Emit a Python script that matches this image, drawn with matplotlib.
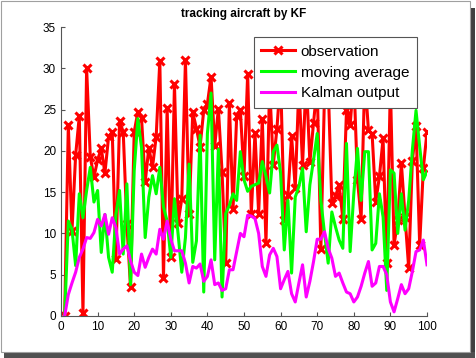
import matplotlib
matplotlib.use("Agg")
import matplotlib.pyplot as plt
from matplotlib.patches import Rectangle

plt.rcParams['font.family'] = ['Liberation Sans', 'DejaVu Sans']

x = list(range(1, 101))

observation = [0, 23.1, 10.3, 19.5, 24.2, 0.4, 30.0, 19.3, 16.8, 18.9,
               20.3, 17.3, 21.7, 22.3, 6.9, 23.6, 22.3, 11.1, 3.5, 22.3,
               24.7, 24.0, 16.2, 20.4, 18.0, 21.7, 30.9, 4.6, 25.2, 7.2,
               28.1, 11.3, 14.2, 31.0, 12.3, 24.7, 22.7, 20.5, 24.9, 25.7,
               29.0, 20.6, 25.1, 17.5, 6.4, 25.8, 12.9, 24.2, 25.0, 16.9,
               29.3, 12.4, 22.2, 12.4, 23.9, 8.8, 28.0, 18.3, 22.7, 29.0,
               11.6, 14.6, 21.8, 15.5, 28.0, 18.3, 29.0, 18.6, 23.4, 28.0,
               8.1, 27.0, 28.0, 13.7, 14.5, 15.9, 11.8, 24.9, 23.1, 29.0,
               16.5, 11.8, 29.0, 22.5, 22.1, 13.8, 16.9, 21.5, 6.4, 28.0,
               8.6, 11.6, 18.5, 12.0, 5.8, 18.8, 23.0, 8.6, 17.9, 22.3]

moving_average = [0, 11.5, 10.5, 6.1, 14.8, 11.9, 15.2, 18.0, 13.8, 15.2,
                  7.7, 12.3, 7.1, 5.3, 12.3, 15.2, 7.5, 16.0, 3.8, 17.6,
                  23.9, 20.4, 9.5, 14.4, 17.0, 14.8, 18.0, 13.2, 11.5, 7.1,
                  14.2, 9.9, 5.3, 9.5, 18.4, 6.5, 9.1, 21.9, 2.9, 22.1,
                  27.0, 6.8, 20.2, 2.3, 12.4, 13.4, 14.8, 14.0, 19.9, 16.5,
                  15.1, 15.7, 15.9, 16.1, 18.7, 16.9, 14.9, 19.9, 20.7, 17.3,
                  8.0, 14.0, 5.2, 14.4, 15.7, 17.9, 10.2, 15.9, 18.9, 22.1,
                  14.0, 10.0, 6.4, 12.6, 10.8, 9.2, 8.2, 20.9, 7.8, 14.8,
                  20.3, 14.0, 19.9, 19.9, 8.0, 8.8, 14.8, 12.0, 3.1, 17.7,
                  17.3, 10.0, 14.8, 10.4, 14.0, 20.1, 24.9, 20.5, 16.5, 17.5]

kalman = [0, 2.6, 4.0, 5.3, 7.1, 8.1, 9.5, 9.4, 10.1, 11.7,
          10.9, 12.3, 9.9, 11.9, 10.7, 7.5, 8.1, 8.5, 6.7, 5.3,
          4.9, 7.5, 5.9, 7.1, 8.1, 7.5, 10.5, 9.3, 11.5, 9.3,
          7.9, 7.9, 7.9, 6.4, 4.0, 6.0, 5.8, 6.3, 4.2, 4.8,
          6.8, 3.8, 4.0, 3.1, 3.3, 5.6, 5.6, 7.8, 10.0, 9.6,
          12.2, 12.1, 11.8, 10.0, 6.0, 4.8, 7.4, 8.2, 7.2, 3.3,
          4.4, 5.4, 2.7, 1.7, 4.0, 6.2, 2.3, 4.2, 6.6, 9.3,
          9.3, 10.2, 8.2, 7.0, 4.8, 5.2, 4.0, 2.9, 2.7, 1.7,
          2.3, 3.6, 5.2, 6.6, 3.6, 4.0, 6.0, 6.0, 5.0, 1.7,
          0.5, 2.1, 3.8, 2.7, 3.3, 5.4, 7.8, 8.0, 9.2, 6.2]

labels = ["observation", "moving average", "Kalman output"]
title = "tracking aircraft by KF"
xticks = list(range(0, 101, 10))
yticks = list(range(0, 36, 5))

fig = plt.figure(figsize=(4.76, 3.58), dpi=100)
fig.patch.set_facecolor("white")

# screenshot-like frame with shadow (behind the axes)
fig.patches.append(Rectangle((470 / 476, 0.01), 5 / 476, 0.985 - 6 / 358,
                             transform=fig.transFigure, facecolor="#404040",
                             edgecolor="none", zorder=-10))
fig.patches.append(Rectangle((4 / 476, 0.0), 471 / 476, 6 / 358,
                             transform=fig.transFigure, facecolor="#505050",
                             edgecolor="none", zorder=-10))
fig.patches.append(Rectangle((0.5 / 476, 6 / 358), 469.5 / 476, 351.5 / 358,
                             transform=fig.transFigure, facecolor="white",
                             edgecolor="#a0a0a0", linewidth=0.8, zorder=-9))

ax = fig.add_axes([61 / 476, 1 - 316 / 358, 366 / 476, 289 / 358])
ax.set_facecolor("none")
ax.set_zorder(1)

ax.plot(x, observation, color="#ff0000", linewidth=2.2, marker="x",
        markersize=5.5, markeredgewidth=2.2, label=labels[0])
ax.plot(x, moving_average, color="#00ff00", linewidth=2.2, label=labels[1])
ax.plot(x, kalman, color="#ff00ff", linewidth=2.2, label=labels[2])

ax.set_xlim(0, 100)
ax.set_ylim(0, 35)
ax.set_xticks(xticks)
ax.set_yticks(yticks)
ax.tick_params(direction="in", length=3, width=0.8, colors="#555555",
               labelcolor="black", labelsize=8.5)
for s in ["top", "right"]:
    ax.spines[s].set_visible(False)
for s in ["left", "bottom"]:
    ax.spines[s].set_color("#555555")
    ax.spines[s].set_linewidth(0.8)

ax.set_title(title, fontsize=8.5, fontweight="bold", pad=7)

leg = ax.legend(loc="upper right", bbox_to_anchor=(417 / 476, 1 - 37 / 358),
                bbox_transform=fig.transFigure, fontsize=11, frameon=True,
                fancybox=False, handlelength=2.2, borderpad=0.5,
                labelspacing=0.45, handletextpad=0.4, borderaxespad=0)
leg.get_frame().set_edgecolor("#555555")
leg.get_frame().set_linewidth(0.8)
leg.get_frame().set_alpha(1.0)

fig.savefig("out.png", dpi=100)
